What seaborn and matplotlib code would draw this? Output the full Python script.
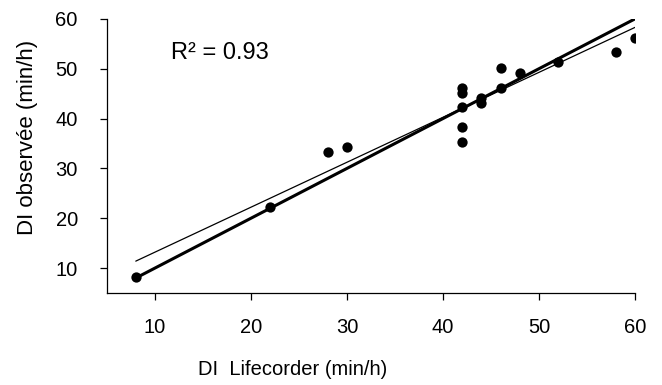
import numpy as np
import pandas as pd
import seaborn as sns
import matplotlib
matplotlib.use("Agg")
import matplotlib.pyplot as plt

# values
di_lifecorder = [8, 22, 28, 30, 42, 42, 42, 42, 42, 44, 44, 46, 46, 48, 52, 58, 60]
di_observee = [8.2, 22.2, 33.2, 34.2, 46.2, 45.2, 42.3, 38.3, 35.2, 44.2, 43.1, 50.2, 46.2, 49.2, 51.3, 53.3, 56.2]
x_ticks = [10, 20, 30, 40, 50, 60]
y_ticks = [10, 20, 30, 40, 50, 60]

df = pd.DataFrame({"lifecorder": di_lifecorder, "observee": di_observee})

sns.set_style("ticks")
plt.rcParams["font.family"] = ["Liberation Sans", "DejaVu Sans"]
plt.rcParams["text.color"] = "black"
plt.rcParams["xtick.color"] = "black"
plt.rcParams["ytick.color"] = "black"
plt.rcParams["axes.labelcolor"] = "black"

fig = plt.figure(figsize=(6.62, 3.85), dpi=100)
ax = fig.add_axes([0.1616, 0.239, 0.7976, 0.712])

# identity line (thick)
lo, hi = df["lifecorder"].min(), df["lifecorder"].max()
ax.plot([lo, hi], [lo, hi], color="black", lw=2.2, zorder=2)

# regression line (thin) + points
sns.regplot(data=df, x="lifecorder", y="observee", ax=ax, ci=None,
            scatter_kws={"s": 55, "color": "black", "alpha": 1, "zorder": 3, "linewidths": 0},
            line_kws={"color": "black", "lw": 0.9, "zorder": 2})

r2 = np.corrcoef(df["lifecorder"], df["observee"])[0, 1] ** 2
print("r2", r2)

ax.text(11.7, 53.2, "R² = 0.93", fontsize=17, va="center", ha="left")

ax.set_xlim(5, 60)
ax.set_ylim(5, 60)
ax.set_xticks(x_ticks)
ax.set_yticks(y_ticks)
ax.tick_params(axis="both", labelsize=14.5, length=5, width=0.9)
ax.tick_params(axis="x", pad=13)
ax.tick_params(axis="y", pad=16)
for s in ["left", "bottom"]:
    ax.spines[s].set_linewidth(0.9)
    ax.spines[s].set_color("black")
sns.despine(ax=ax)

ax.set_xlabel("DI  Lifecorder (min/h)", fontsize=14.5)
ax.set_ylabel("DI observée (min/h)", fontsize=16)
ax.xaxis.set_label_coords(0.352, -0.245)
ax.yaxis.set_label_coords(-0.131, 0.569)

fig.savefig("out.png", dpi=100)
